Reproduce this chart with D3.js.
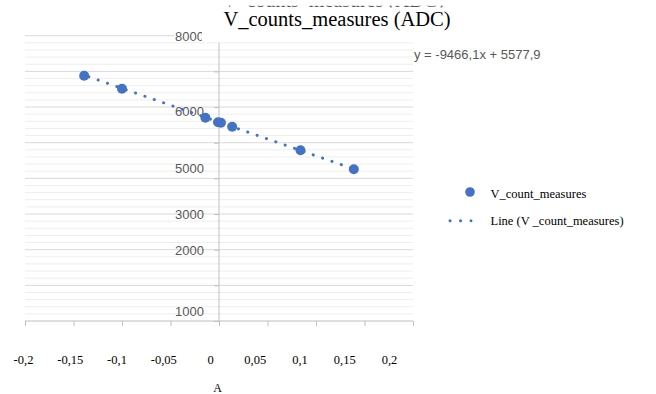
<!DOCTYPE html>
<html><head><meta charset="utf-8">
<script src="https://cdn.jsdelivr.net/npm/d3@7/dist/d3.min.js"></script>
<style>
body{margin:0;background:#fff;}
svg{display:block;}
</style></head>
<body><svg id="chart" width="656" height="394"></svg>
<script>
// ---- data ----
const pointX = [-0.139, -0.100, -0.014, -0.001, 0.002, 0.0136, 0.084, 0.139];
const pointY = [6879, 6514, 5701, 5572, 5561, 5446, 4786, 4254];
const trendSlope = -9466.1;
const trendIntercept = 5577.9;
const trendLabel = "y = -9466,1x + 5577,9";
const xTicks = [-0.2, -0.15, -0.1, -0.05, 0, 0.05, 0.1, 0.15, 0.2];
const xTickLabels = ["-0,2", "-0,15", "-0,1", "-0,05", "0", "0,05", "0,1", "0,15", "0,2"];
const yMajor = [1000, 2000, 3000, 4000, 5000, 6000, 7000];
const yTickLabels = ["8000", "6000", "5000", "3000", "2000", "1000"];
const yTickLabelAt = [7990, 5870, 4290, 3000, 1990, 270];
const title = "V_counts_measures (ADC)";
const xTitle = "A";
const legendLabels = ["V_count_measures", "Line (V _count_measures)"];

const blue = "#4472C4";
const svg = d3.select("#chart");
const defs = svg.append("defs");

const x = d3.scaleLinear().domain([-0.2, 0.2]).range([25, 413]);
const xLab = d3.scaleLinear().domain([-0.2, 0, 0.2]).range([23, 210, 389]);
const y = d3.scaleLinear().domain([0, 8000]).range([321, 35.7]);

// text remnant at top, mostly hidden (only a thin strip shows)
svg.append("text")
  .attr("x", 333).attr("y", 7.0).attr("text-anchor", "middle")
  .style("font-family", "Liberation Serif").style("font-size", "20px").attr("fill", "#555")
  .text(title);
svg.append("rect").attr("x", 0).attr("y", 0).attr("width", 656).attr("height", 5.7).attr("fill", "#ffffff");
svg.append("rect").attr("x", 0).attr("y", 7.4).attr("width", 656).attr("height", 4).attr("fill", "#ffffff");

// minor gridlines
const minor = d3.range(200, 8000, 200).filter(v => v % 1000 !== 0);
svg.append("g").selectAll("line").data(minor).join("line")
  .attr("x1", x(-0.2)).attr("x2", x(0.2))
  .attr("y1", d => y(d)).attr("y2", d => y(d))
  .attr("stroke", "#eeeeee").attr("stroke-width", 1);
// major gridlines
svg.append("g").selectAll("line").data(yMajor).join("line")
  .attr("x1", x(-0.2)).attr("x2", x(0.2))
  .attr("y1", d => y(d)).attr("y2", d => y(d))
  .attr("stroke", "#d9d9d9").attr("stroke-width", 1);
// top 8000 gridline (partial)
svg.append("line").attr("x1", x(-0.2)).attr("x2", 174)
  .attr("y1", y(8000)).attr("y2", y(8000))
  .attr("stroke", "#d9d9d9");

// x axis
const xAxis = svg.append("g").attr("transform", `translate(0,${y(0)})`)
  .call(d3.axisBottom(x).tickValues(xTicks).tickSize(5).tickFormat(""));
xAxis.selectAll("path,line").attr("stroke", "#bfbfbf");
xAxis.select(".domain").attr("d", `M${x(-0.2)},0H${x(0.2)}`);

// x tick labels
const xLabAxis = svg.append("g").attr("transform", "translate(0,364)")
  .call(d3.axisBottom(xLab).tickValues(xTicks).tickSize(0).tickPadding(0)
    .tickFormat((d, i) => xTickLabels[i]));
xLabAxis.select(".domain").remove();
xLabAxis.selectAll("text").attr("dy", 0).attr("fill", "#000")
  .style("font-family", "Liberation Serif").style("font-size", "12.5px");

// y axis line + ticks
const yAxis = svg.append("g").attr("transform", `translate(${x(0)},0)`)
  .call(d3.axisLeft(y).tickValues([0].concat(yMajor)).tickSize(5).tickFormat(""));
yAxis.selectAll("path,line").attr("stroke", "#bfbfbf");
yAxis.select(".domain").attr("d", `M0,${y(7800)}V${y(0)}`);

// y tick labels
defs.append("clipPath").attr("id", "clip8000").append("rect")
  .attr("x", -40).attr("y", -20).attr("width", 38).attr("height", 40);
const yLabAxis = svg.append("g").attr("transform", "translate(204,0)")
  .call(d3.axisLeft(y).tickValues(yTickLabelAt).tickSize(0).tickPadding(0)
    .tickFormat((d, i) => yTickLabels[i]));
yLabAxis.select(".domain").remove();
yLabAxis.selectAll("text").attr("fill", "#595959")
  .style("font-family", "Liberation Sans").style("font-size", "13px");
yLabAxis.selectAll("text").filter((d, i) => i === 0)
  .attr("clip-path", "url(#clip8000)");

// trendline
const [tx0, tx1] = d3.extent(pointX);
const line = d3.line().x(d => x(d)).y(d => y(trendSlope * d + trendIntercept));
svg.append("path").datum([tx0, tx1]).attr("d", line)
  .attr("fill", "none").attr("stroke", blue).attr("stroke-width", 3)
  .attr("stroke-linecap", "round").attr("stroke-dasharray", "0.1 9.8")
  .attr("stroke-dashoffset", -4.9);

// points
svg.append("g").selectAll("circle").data(pointX).join("circle")
  .attr("cx", d => x(d)).attr("cy", (d, i) => y(pointY[i])).attr("r", 5)
  .attr("fill", blue);

// trend equation
svg.append("text").attr("x", 414).attr("y", 59).text(trendLabel)
  .attr("fill", "#595959").style("font-family", "Liberation Sans").style("font-size", "13px");

// title
svg.append("text").attr("x", 337).attr("y", 25.5).attr("text-anchor", "middle")
  .style("font-family", "Liberation Serif").style("font-size", "20.5px").attr("fill", "#000")
  .text(title);

// x axis title
svg.append("text").attr("x", 217.5).attr("y", 391.5).attr("text-anchor", "middle")
  .style("font-family", "Liberation Serif").style("font-size", "12px").attr("fill", "#000")
  .text(xTitle);

// legend
const lg = svg.append("g");
lg.append("circle").attr("cx", 470).attr("cy", 192).attr("r", 4.8).attr("fill", blue);
lg.append("line").attr("x1", 450).attr("x2", 471).attr("y1", 220.7).attr("y2", 220.7)
  .attr("stroke", blue).attr("stroke-width", 3).attr("stroke-linecap", "round")
  .attr("stroke-dasharray", "0.1 10.4");
lg.selectAll("text").data(legendLabels).join("text")
  .attr("x", 490.5).attr("y", (d, i) => i === 0 ? 198 : 224.5)
  .style("font-family", "Liberation Serif").style("font-size", "12.5px").attr("fill", "#000")
  .text(d => d);
</script></body></html>
